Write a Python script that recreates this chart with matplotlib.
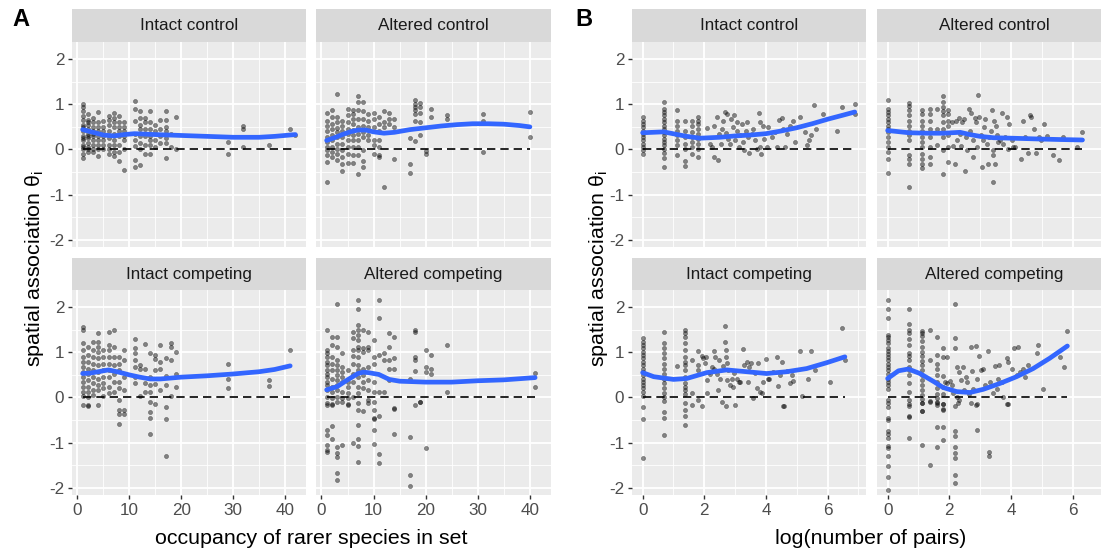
import numpy as np
import matplotlib.pyplot as plt

plt.rcParams["font.family"] = ["Liberation Sans", "DejaVu Sans"]
plt.rcParams["axes.unicode_minus"] = False

# ---- A: theta against occupancy of the rarer species (occupancy -> theta values) ----
occ_intact_control = {
    1: [1.0, 0.95, 0.85, 0.75, 0.65, 0.55, 0.5, 0.45, 0.4, 0.3, 0.25, 0.2, 0.1, 0.05, 0.0, -0.1, -0.19],
    2: [0.78, 0.65, 0.6, 0.55, 0.45, 0.35, 0.3, 0.25, 0.15, 0.05, 0.0, -0.05],
    3: [0.7, 0.6, 0.5, 0.42, 0.35, 0.3, 0.2, 0.1, 0.0, -0.05],
    4: [0.83, 0.6, 0.5, 0.4, 0.3, 0.2, 0.1, 0.0, -0.15],
    5: [0.62, 0.5, 0.4, 0.3, 0.2, 0.1, 0.0],
    6: [0.75, 0.65, 0.55, 0.4, 0.25, 0.1, 0.0, -0.1],
    7: [0.8, 0.7, 0.6, 0.5, 0.35, 0.2, 0.1, -0.05, -0.15],
    8: [0.75, 0.6, 0.5, 0.4, 0.3, 0.1, -0.05, -0.25],
    9: [0.6, 0.5, 0.4, 0.3, 0.2, 0.0, -0.45],
    11: [1.07, 0.9, 0.64, 0.35, 0.2, 0.07, -0.24, -0.38],
    12: [0.85, 0.7, 0.55, 0.45, 0.3, 0.15, 0.0, -0.35],
    13: [0.7, 0.6, 0.45, 0.3, 0.1, -0.1],
    14: [0.85, 0.6, 0.45, 0.3, 0.2, 0.1, -0.1],
    15: [0.55, 0.4, 0.2, 0.05],
    16: [0.65, 0.45, 0.3, 0.15],
    17: [0.85, 0.65, 0.5, 0.4, 0.25, 0.15, -0.2],
    18: [0.35, 0.05],
    19: [0.72, 0.0],
    29: [0.16, -0.11],
    32: [0.51, 0.46, 0.05],
    37: [0.11],
    41: [0.45],
    42: [0.32],
}
occ_altered_control = {
    1: [0.81, 0.64, 0.53, 0.42, 0.27, 0.16, 0.05, -0.02, -0.13, -0.28, -0.73],
    2: [0.87, 0.72, 0.57, 0.46, 0.31, 0.2, 0.05, -0.06, -0.17],
    3: [1.22, 0.72, 0.6, 0.48, 0.38, 0.27, 0.13, 0.01, -0.1, -0.24],
    4: [0.64, 0.53, 0.42, 0.27, 0.13, -0.02, -0.17, -0.32, -0.47],
    5: [0.9, 0.76, 0.6, 0.46, 0.35, 0.2, 0.05, -0.1, -0.3],
    6: [0.88, 0.79, 0.68, 0.57, 0.44, 0.31, 0.2, 0.05, -0.13, -0.3],
    7: [1.18, 1.05, 0.87, 0.68, 0.5, 0.35, 0.2, 0.05, -0.13, -0.54],
    8: [1.05, 0.85, 0.68, 0.53, 0.38, 0.27, -0.02, -0.26, -0.39],
    9: [0.79, 0.64, 0.5, 0.31, 0.2],
    10: [0.81, 0.68, 0.5, 0.2, 0.09, -0.1],
    11: [0.72, 0.57, 0.42, 0.2, 0.05, -0.13, -0.17],
    12: [0.85, 0.6, 0.5, -0.84],
    13: [0.81, 0.68, 0.57],
    14: [0.68, 0.5, -0.21],
    17: [0.26, -0.32, -0.53],
    18: [1.1, 1.01, 0.94, 0.87, 0.78, 0.64, 0.19],
    19: [1.03, 0.94, 0.81, 0.6, 0.31],
    20: [-0.04, -0.11],
    21: [0.9, 0.72],
    24: [0.76, 0.68],
    31: [0.78, 0.63, -0.06],
    40: [0.83, 0.27],
}
occ_intact_competing = {
    1: [1.55, 1.5, 1.21, 1.05, 0.9, 0.79, 0.68, 0.57, 0.46, 0.35, 0.24, 0.13, 0.04, -0.17],
    2: [1.12, 0.94, 0.79, 0.64, 0.53, 0.39, 0.24, 0.13, 0.02, -0.17, -0.18],
    3: [1.23, 1.05, 0.9, 0.75, 0.61, 0.46, 0.31, 0.17, 0.06],
    4: [1.42, 1.23, 1.12, 1.01, 0.87, 0.72, 0.57, 0.42, 0.28, 0.17, -0.17],
    5: [1.05, 0.9, 0.75, 0.61, 0.46, 0.31, 0.2, 0.04],
    6: [1.46, 1.16, 1.05, 0.9, 0.75, 0.61, 0.46, 0.24, 0.09],
    7: [1.49, 1.12, 0.9, 0.72, 0.53, 0.35, 0.13],
    8: [0.9, 0.75, 0.61, 0.35, 0.2, -0.06, -0.28, -0.37, -0.59],
    9: [1.05, 0.83, 0.46, 0.17, -0.28, -0.36],
    11: [1.29, 1.09, 0.98, 0.83, 0.68, 0.46, 0.31],
    12: [0.72, 0.64, 0.03],
    13: [1.18, 0.62, 0.31, 0.13],
    14: [0.99, 0.46, 0.28, 0.13, -0.11, -0.32, -0.45, -0.81],
    15: [0.95, 0.85, 0.6, 0.3, -0.14],
    16: [1.16, 0.79, 0.64, 0.17],
    17: [0.87, 0.47, 0.28, -0.22, -0.47, -1.29],
    18: [1.2, 1.12, 0.83, 0.03],
    19: [1.01, 0.52, 0.24],
    29: [0.75, 0.4, 0.2],
    37: [0.39, 0.25],
    41: [1.06],
}
occ_altered_competing = {
    1: [1.49, 1.05, 0.98, 0.9, 0.79, 0.72, 0.61, 0.53, 0.46, 0.35, 0.28, 0.17, 0.02, -0.13,
        -0.16, -0.71, -0.83, -1.05, -1.16, -1.2],
    2: [1.33, 1.16, 0.9, 0.75, 0.61, 0.42, 0.24, 0.13, -0.02, -0.14, -0.16, -0.63, -0.91],
    3: [2.08, 1.33, 1.12, 0.83, 0.72, 0.61, 0.5, 0.39, 0.28, 0.17, 0.02, -0.09, -1.09, -1.23,
        -1.31, -1.67, -1.83],
    4: [0.98, 0.68, 0.57, 0.46, 0.35, 0.13, -0.02, -0.11, -1.05],
    5: [0.61, 0.35, 0.24, 0.09, -0.02, -0.14, -0.16],
    6: [1.46, 1.31, 1.05, 0.92, 0.75, 0.53, 0.35, 0.02, -1.0],
    7: [2.15, 1.97, 1.6, 1.49, 1.38, 1.27, 1.12, 1.05, 0.9, 0.72, 0.61, 0.46, 0.24, 0.09,
        -0.13, -0.28, -0.62, -0.92, -1.07, -1.44],
    8: [1.49, 1.09, 1.01, 0.64, 0.5, 0.35, 0.2, -0.3],
    9: [1.46, 1.12, 1.05, 0.68, 0.39, 0.17, -0.06, -0.13],
    10: [1.27, 0.9, 0.75, 0.35, 0.13, -0.11, -0.27, -0.46, -0.48, -0.73, -1.03],
    11: [2.15, 1.75, 0.94, 0.13, -0.42, -1.26, -1.46],
    12: [0.98, 0.83, 0.13],
    13: [1.42, 1.12, 0.83, 0.64, 0.39],
    14: [1.33, 0.87, 0.64, -0.24, -0.25, -0.82],
    17: [0.42, -0.87, -1.71, -1.96],
    18: [1.49, 1.46, 0.9, 0.83, 0.59, -0.17],
    19: [-0.09, -0.11],
    20: [1.05, 0.68, 0.57, -1.11],
    21: [0.94, 0.64, 0.53],
    24: [1.16, 0.13],
    41: [0.55, 0.24],
}

# loess fits for A
fit_occ_intact_control_x = [1, 3, 5, 7, 9, 11, 15, 20, 25, 30, 35, 38, 42]
fit_occ_intact_control_y = [0.44, 0.38, 0.32, 0.30, 0.33, 0.35, 0.33, 0.31, 0.29, 0.27, 0.27, 0.29, 0.33]
fit_occ_altered_control_x = [1, 2.5, 4, 5.5, 7, 8.5, 10, 12, 14, 17, 20, 23, 26, 29, 32, 35, 38, 40]
fit_occ_altered_control_y = [0.20, 0.26, 0.33, 0.39, 0.43, 0.43, 0.39, 0.36, 0.38, 0.44, 0.48, 0.52,
                             0.55, 0.57, 0.57, 0.56, 0.53, 0.50]
fit_occ_intact_competing_x = [1, 2.5, 4, 6, 8, 10, 12, 14, 16, 18, 20, 25, 30, 35, 38, 41]
fit_occ_intact_competing_y = [0.53, 0.54, 0.57, 0.61, 0.56, 0.50, 0.45, 0.41, 0.41, 0.43, 0.45, 0.48,
                              0.52, 0.57, 0.62, 0.70]
fit_occ_altered_competing_x = [1, 3, 5, 7, 8, 9, 11, 13, 15, 17.5, 20, 25, 30, 35, 41]
fit_occ_altered_competing_y = [0.17, 0.24, 0.39, 0.53, 0.56, 0.55, 0.51, 0.40, 0.36, 0.35, 0.34, 0.34,
                               0.37, 0.39, 0.44]

# ---- B: theta against number of pairs ----
# small pair counts stack in columns (number of pairs -> theta values)
pairs_intact_control = {
    1: [0.73, 0.64, 0.57, 0.5, 0.42, 0.35, 0.27, 0.2, 0.13, 0.05, -0.01, -0.11],
    2: [1.05, 0.9, 0.83, 0.76, 0.68, 0.6, 0.53, 0.46, 0.38, 0.31, 0.24, 0.16, 0.09, 0.01, -0.08,
        -0.19, -0.38],
    3: [0.87, 0.64, 0.53, 0.42, 0.31, 0.2, 0.09, -0.13],
    4: [0.63, 0.42, 0.27, 0.13, 0.01, -0.26, -0.36],
    5: [0.63, 0.53, 0.38, 0.27, 0.16, 0.05, -0.1],
    6: [0.72, 0.64, 0.57, 0.46, 0.35, 0.24, 0.13, 0.01, -0.17],
}
# larger pair counts: (log(number of pairs), theta)
logpairs_intact_control = [
    (2.10, 0.48), (2.19, 0.13), (2.24, 0.05), (2.32, 0.53), (2.33, -0.16), (2.41, 0.72),
    (2.46, -0.24), (2.49, 0.35), (2.54, 0.13), (2.57, 0.46), (2.62, 0.64), (2.68, 0.83),
    (2.71, 0.36), (2.75, 0.79), (2.78, 0.24), (2.84, 0.13), (2.87, 0.68), (2.92, 0.50),
    (2.97, 0.76), (3.00, 0.20), (3.05, 0.61), (3.07, 0.42), (3.11, 0.05), (3.16, 0.31),
    (3.21, 0.57), (3.25, 0.16), (3.29, -0.02), (3.35, 0.42), (3.38, 0.61), (3.43, 0.27),
    (3.46, -0.08), (3.54, 0.35), (3.59, 0.46), (3.65, 0.20), (3.70, 0.01), (3.79, 0.81),
    (3.81, 0.61), (3.81, 0.05), (3.83, -0.10), (3.89, 0.51), (3.94, 0.24), (4.02, 0.05),
    (4.08, 0.50), (4.19, 0.27), (4.29, 0.39), (4.35, 0.05), (4.43, 0.66), (4.51, 0.70),
    (4.56, 0.46), (4.62, 0.05), (4.67, 0.35), (4.78, 0.51), (4.87, 0.63), (4.94, 0.16),
    (5.12, 0.72), (5.26, 0.39), (5.32, 0.09), (5.40, 0.21), (5.45, 0.33), (5.56, 0.98),
    (5.62, 0.46), (5.84, 0.79), (6.29, 0.42), (6.48, 0.93), (6.88, 1.01), (6.88, 0.78),
]
pairs_altered_control = {
    1: [1.10, 0.90, 0.83, 0.76, 0.68, 0.61, 0.53, 0.46, 0.39, 0.27, 0.16, 0.05, -0.06, -0.21, -0.53],
    2: [1.03, 0.96, 0.87, 0.76, 0.64, 0.53, 0.42, 0.31, 0.20, -0.13, -0.21, -0.32, -0.84],
    3: [0.87, 0.78, 0.64, 0.53, 0.42, 0.27, 0.16, 0.05, -0.10, -0.21, -0.32, -0.41],
    4: [0.90, 0.79, 0.64, 0.46, 0.27, 0.05, -0.17, -0.32],
    5: [0.90, 0.46, 0.09],
    6: [1.18, 1.05, 0.94, 0.85, 0.76, 0.61, 0.46, 0.27, -0.02, -0.54],
    7: [0.87, 0.78, 0.64, 0.51, 0.31, 0.05, -0.28],
}
logpairs_altered_control = [
    (2.08, 0.61), (2.13, 0.07), (2.18, -0.32), (2.22, 0.64), (2.26, 0.20), (2.30, 0.70),
    (2.35, 0.35), (2.38, 0.07), (2.41, 0.61), (2.48, 0.68), (2.51, -0.47), (2.54, 0.27),
    (2.58, -0.02), (2.63, 0.89), (2.67, 0.42), (2.72, 0.81), (2.76, -0.17), (2.78, 0.20),
    (2.82, 0.70), (2.86, 0.61), (2.89, 0.05), (2.93, 1.21), (2.97, 0.72), (3.02, 0.31),
    (3.05, -0.39), (3.08, 0.20), (3.12, 0.50), (3.17, 0.68), (3.21, 0.13), (3.24, -0.32),
    (3.30, 0.27), (3.34, 0.41), (3.38, 0.88), (3.41, -0.02), (3.43, -0.13), (3.43, -0.73),
    (3.45, 0.64), (3.48, -0.32), (3.51, 0.53), (3.56, 0.31), (3.59, 0.16), (3.64, 0.20),
    (3.70, 0.81), (3.75, 0.13), (3.81, 0.27), (3.86, 0.72), (3.89, 0.01), (3.95, 0.57),
    (4.02, 0.20), (4.08, 0.05), (4.14, 0.05), (4.31, -0.21), (4.40, 0.64), (4.45, 0.27),
    (4.56, -0.07), (4.61, 0.76), (4.64, 0.73), (4.75, 0.46), (4.81, -0.07), (4.92, 0.27),
    (4.99, 0.20), (5.08, 0.56), (5.16, 0.29), (5.37, -0.13), (5.57, -0.24), (5.70, 0.27),
    (6.15, 0.05), (6.32, 0.39),
]
pairs_intact_competing = {
    1: [1.31, 1.23, 1.16, 1.09, 1.01, 0.94, 0.87, 0.79, 0.72, 0.64, 0.57, 0.50, 0.42, 0.35, 0.28,
        0.20, 0.13, 0.04, -0.22, -0.48, -1.34],
    2: [1.45, 1.20, 1.09, 0.98, 0.87, 0.75, 0.64, 0.53, 0.42, 0.31, 0.20, 0.09, 0.00, -0.08, -0.33,
        -0.46, -0.84],
    3: [0.70],
    4: [1.49, 1.42, 1.33, 1.20, 1.05, 0.90, 0.79, 0.72, 0.61, 0.46, 0.31, 0.24, 0.17, 0.08, -0.13,
        -0.28, -0.40, -0.61],
    5: [0.83, 0.09, -0.17],
    6: [1.03, 0.72, 0.61, -0.06],
}
logpairs_intact_competing = [
    (1.92, 0.92), (1.94, -0.19), (1.97, 0.87), (2.03, 0.76), (2.06, 0.90), (2.08, 0.39),
    (2.10, 0.09), (2.14, 0.57), (2.19, 0.53), (2.24, 0.68), (2.30, 1.03), (2.32, 0.64),
    (2.35, 0.90), (2.41, 0.52), (2.46, 0.17), (2.49, 0.83), (2.51, 0.42), (2.57, -0.09),
    (2.62, 0.70), (2.68, 1.58), (2.68, 1.23), (2.71, 1.05), (2.71, 0.90), (2.70, -0.19),
    (2.73, 0.76), (2.75, 0.39), (2.78, 0.61), (2.84, 0.28), (2.89, 0.40), (2.92, 0.24),
    (2.97, 0.55), (3.00, -0.16), (3.05, 0.40), (3.11, 0.35), (3.16, 0.35), (3.25, 1.08),
    (3.29, 0.72), (3.38, 0.79), (3.43, 0.35), (3.46, 0.68), (3.51, 0.77), (3.57, -0.02),
    (3.65, 0.55), (3.70, 0.20), (3.75, 0.76), (3.81, 0.13), (3.86, 0.11), (3.92, 0.35),
    (4.00, 0.86), (4.08, 0.42), (4.11, 0.42), (4.24, 0.57), (4.35, 0.90), (4.40, 0.25),
    (4.46, 0.50), (4.51, 0.79), (4.54, -0.19), (4.57, -0.18), (4.67, 0.58), (4.78, 0.33),
    (4.83, 0.50), (4.89, 0.37), (5.10, 1.03), (5.16, 0.04), (5.37, 0.42), (5.45, 1.03),
    (5.59, 0.61), (6.07, 0.35), (6.48, 1.53), (6.56, 0.83),
]
pairs_altered_competing = {
    1: [2.15, 1.97, 1.75, 1.38, 1.33, 1.27, 1.20, 1.09, 1.03, 0.96, 0.90, 0.83, 0.75, 0.68, 0.61,
        0.52, 0.42, 0.35, 0.28, 0.18, -0.06, -0.13, -0.22, -0.46, -0.50, -0.74, -0.82, -0.89,
        -1.07, -1.12, -1.30, -1.51, -1.77, -2.04],
    2: [1.95, 1.62, 1.49, 1.43, 1.29, 1.16, 0.98, 0.92, 0.83, 0.68, 0.61, 0.50, 0.31, 0.13, -0.06,
        -0.14, -0.18, -0.41, -0.43, -0.89],
    3: [1.48, 1.43, 1.36, 1.26, 1.12, 1.01, 0.92, 0.81, 0.72, 0.61, 0.50, 0.39, 0.28, 0.17, 0.06,
        -0.04, -0.12, -0.13, -0.29, -0.30, -1.05],
    4: [1.49, 0.84, -0.07, -0.09, -1.49],
    5: [1.33, 0.94, 0.75, 0.64, 0.50, 0.35, 0.20, 0.08, -0.02, -0.11, -0.12, -0.16, -0.65, -1.10],
    6: [1.09, 0.90, 0.48, 0.24, 0.08, -0.14, -0.26, -0.15, -0.27, -0.66, -0.94],
    9: [-0.18, -0.74, -0.86, -1.10, -1.23, -1.35, -1.72, -1.89],
}
logpairs_altered_competing = [
    (1.86, 0.35), (1.91, 0.89), (1.94, 0.31), (2.02, 0.37), (2.08, 0.28), (2.13, 0.09),
    (2.18, 2.07), (2.18, 1.31), (2.20, 1.09), (2.24, 0.02), (2.29, -0.13), (2.26, 0.68),
    (2.30, -0.06), (2.32, 0.57), (2.37, 0.39), (2.43, 0.67), (2.48, 0.17), (2.54, 0.46),
    (2.58, 0.35), (2.65, 0.08), (2.69, 1.12), (2.70, -0.13), (2.74, 0.59), (2.78, 0.18),
    (2.86, 1.14), (2.86, -0.17), (2.90, -0.15), (2.90, -0.72), (2.91, 0.42), (2.97, 0.92),
    (3.02, 0.61), (3.10, 0.64), (3.16, 0.28), (3.26, 1.03), (3.30, -1.20), (3.30, -1.29),
    (3.32, 0.35), (3.43, 0.09), (3.47, 0.70), (3.54, 0.18), (3.59, 0.40), (3.62, 0.72),
    (3.70, 0.35), (3.75, 0.02), (3.86, 0.87), (3.88, -0.14), (3.90, -0.15), (3.91, 0.79),
    (4.02, 0.64), (4.10, 1.09), (4.18, 0.50), (4.24, 1.11), (4.29, 0.57), (4.40, 0.64),
    (4.45, 0.46), (4.56, 0.72), (4.83, 0.99), (4.89, 1.16), (5.03, 0.18), (5.59, 0.90),
    (5.72, 0.67), (5.83, 1.48),
]

# loess fits for B
fit_pairs_intact_control_x = [0, 0.68, 1.43, 1.87, 2.5, 3.0, 3.5, 4.0, 4.5, 4.99, 5.5, 6.0, 6.5, 6.88]
fit_pairs_intact_control_y = [0.37, 0.39, 0.29, 0.25, 0.27, 0.30, 0.32, 0.35, 0.41, 0.48, 0.57, 0.67,
                              0.76, 0.83]
fit_pairs_altered_control_x = [0, 0.69, 1.3, 1.81, 2.35, 2.67, 3.0, 3.43, 4.0, 4.51, 5.0, 5.59, 6.32]
fit_pairs_altered_control_y = [0.42, 0.37, 0.36, 0.36, 0.38, 0.33, 0.29, 0.26, 0.25, 0.24, 0.23, 0.22,
                               0.21]
fit_pairs_intact_competing_x = [0, 0.36, 1.0, 1.43, 2.08, 2.73, 3.38, 4.02, 4.67, 5.32, 5.97, 6.56]
fit_pairs_intact_competing_y = [0.55, 0.46, 0.40, 0.42, 0.55, 0.61, 0.57, 0.53, 0.57, 0.64, 0.77, 0.90]
fit_pairs_altered_competing_x = [0, 0.35, 0.67, 1.05, 1.5, 1.8, 2.24, 2.67, 3.1, 3.64, 4.18, 4.72,
                                 5.26, 5.83]
fit_pairs_altered_competing_y = [0.42, 0.59, 0.63, 0.53, 0.35, 0.22, 0.13, 0.11, 0.18, 0.31, 0.46, 0.64,
                                 0.87, 1.14]

facet_names = ["Intact control", "Altered control", "Intact competing", "Altered competing"]


def from_columns(cols, transform=None):
    xs, ys = [], []
    for k, vals in cols.items():
        xs += [k] * len(vals)
        ys += vals
    xs = np.array(xs, dtype=float)
    if transform is not None:
        xs = transform(xs)
    return xs, np.array(ys)


def with_scatter(cols, pairs):
    x, y = from_columns(cols, np.log)
    px, py = zip(*pairs)
    return np.concatenate([x, px]), np.concatenate([y, py])


occ_data = [from_columns(occ_intact_control), from_columns(occ_altered_control),
            from_columns(occ_intact_competing), from_columns(occ_altered_competing)]
occ_fits = [(fit_occ_intact_control_x, fit_occ_intact_control_y),
            (fit_occ_altered_control_x, fit_occ_altered_control_y),
            (fit_occ_intact_competing_x, fit_occ_intact_competing_y),
            (fit_occ_altered_competing_x, fit_occ_altered_competing_y)]
pair_data = [with_scatter(pairs_intact_control, logpairs_intact_control),
             with_scatter(pairs_altered_control, logpairs_altered_control),
             with_scatter(pairs_intact_competing, logpairs_intact_competing),
             with_scatter(pairs_altered_competing, logpairs_altered_competing)]
pair_fits = [(fit_pairs_intact_control_x, fit_pairs_intact_control_y),
             (fit_pairs_altered_control_x, fit_pairs_altered_control_y),
             (fit_pairs_intact_competing_x, fit_pairs_intact_competing_y),
             (fit_pairs_altered_competing_x, fit_pairs_altered_competing_y)]

# ---- layout in pixels ----
W, H = 1101, 552
fig = plt.figure(figsize=(W / 100, H / 100), dpi=100)

YLIM = (-2.16, 2.38)
ROWS = [(9, 42, 247), (258, 290, 495)]  # strip top, panel top, panel bottom
TICK_COL = "#4D4D4D"
FS_TICK = 12.3
FS_TITLE = 15.4


def px_axes(x0, y0, x1, y1):
    return fig.add_axes([x0 / W, 1 - y1 / H, (x1 - x0) / W, (y1 - y0) / H])


def draw_block(cols, data, fits, xlim, xmajor, xminor):
    for i, ((x, y), (fx, fy)) in enumerate(zip(data, fits)):
        r, c = divmod(i, 2)
        st, top, bot = ROWS[r]
        x0, x1 = cols[c]

        strip = px_axes(x0, st, x1, top)
        strip.set_facecolor("#D9D9D9")
        strip.set_xticks([])
        strip.set_yticks([])
        for s in strip.spines.values():
            s.set_visible(False)
        strip.text(0.5, 0.5, facet_names[i], ha="center", va="center",
                   fontsize=FS_TICK, color="#1A1A1A", transform=strip.transAxes)

        ax = px_axes(x0, top, x1, bot)
        ax.set_facecolor("#EBEBEB")
        ax.set_xlim(xlim)
        ax.set_ylim(YLIM)
        ax.set_xticks(xmajor)
        ax.set_xticks(xminor, minor=True)
        ax.set_yticks([-2, -1, 0, 1, 2])
        ax.set_yticks([-1.5, -0.5, 0.5, 1.5], minor=True)
        ax.grid(which="major", color="white", lw=1.3)
        ax.grid(which="minor", color="white", lw=0.6)
        ax.set_axisbelow(True)
        for s in ax.spines.values():
            s.set_visible(False)
        ax.tick_params(which="minor", length=0)
        ax.tick_params(which="major", length=3, width=1.0, color="#333333",
                       labelsize=FS_TICK, labelcolor=TICK_COL, pad=2.5)
        if r == 0:
            ax.tick_params(axis="x", which="major", length=0, labelbottom=False)
        if c == 1:
            ax.tick_params(axis="y", which="major", length=0, labelleft=False)

        ax.scatter(x, y, s=9, c="black", alpha=0.45, linewidths=0.4,
                   edgecolors="black", zorder=2)
        ax.plot([x.min(), x.max()], [0, 0], color="black", lw=1.2,
                dashes=(5, 3), zorder=3)
        ax.plot(fx, fy, color="#3366FF", lw=3.4, solid_capstyle="round", zorder=4)


draw_block([(72, 306), (316, 551)], occ_data, occ_fits,
           (-1.05, 44.05), [0, 10, 20, 30, 40], [5, 15, 25, 35])
draw_block([(632, 866), (877, 1111)], pair_data, pair_fits,
           (-0.345, 7.245), [0, 2, 4, 6], [1, 3, 5, 7])

# axis titles and panel letters
ylab = "spatial association θ$_\\mathregular{i}$"
fig.text(35 / W, 1 - 268 / H, ylab, rotation=90, ha="center", va="center", fontsize=FS_TITLE)
fig.text(598 / W, 1 - 268 / H, ylab, rotation=90, ha="center", va="center", fontsize=FS_TITLE)
fig.text(311 / W, 1 - 538 / H, "occupancy of rarer species in set",
         ha="center", va="center", fontsize=FS_TITLE)
fig.text(871 / W, 1 - 538 / H, "log(number of pairs)",
         ha="center", va="center", fontsize=FS_TITLE)
fig.text(21 / W, 1 - 20 / H, "A", ha="center", va="center", fontsize=17, fontweight="bold")
fig.text(584 / W, 1 - 20 / H, "B", ha="center", va="center", fontsize=17, fontweight="bold")

fig.savefig("out.png", dpi=100, facecolor="white")
